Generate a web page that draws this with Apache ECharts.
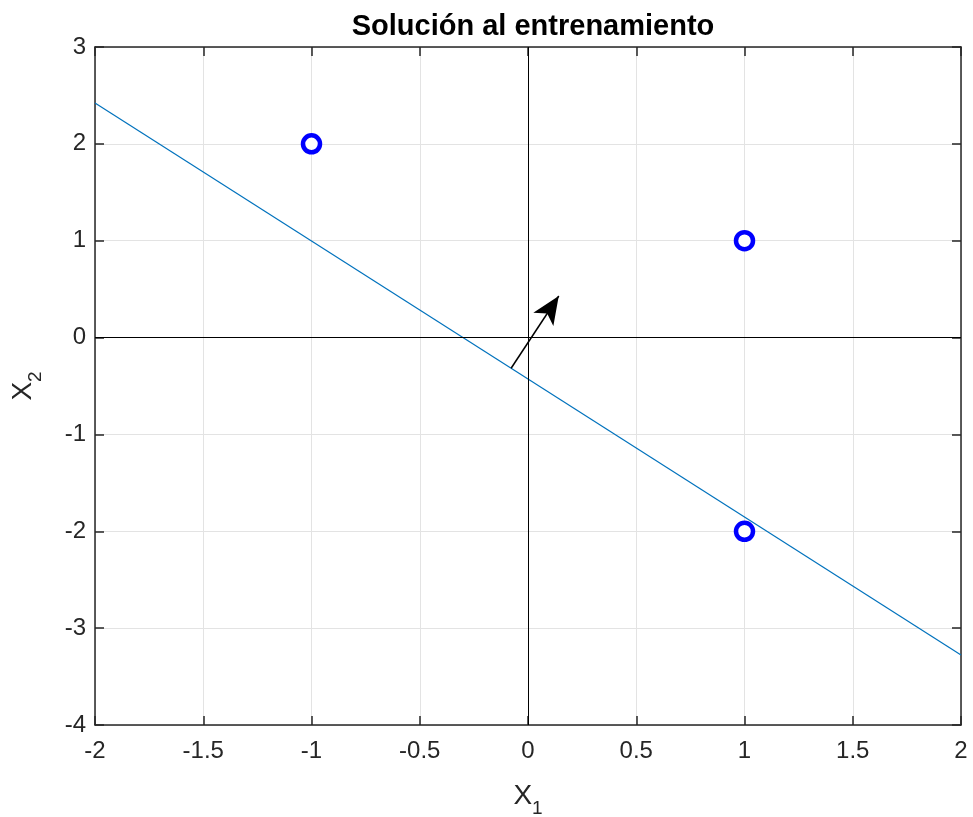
<!DOCTYPE html>
<html>
<head>
<meta charset="utf-8">
<script src="https://cdn.jsdelivr.net/npm/echarts@6/dist/echarts.min.js"></script>
<style>
  html, body { margin: 0; padding: 0; background: #fff; }
  #chart { width: 973px; height: 817px; }
</style>
</head>
<body>
<div id="chart"></div>
<script>
// training points
const pointsX = [-1, 1, 1]
const pointsY = [2, 1, -2]
// decision boundary endpoints
const boundaryX = [-2, 2]
const boundaryY = [2.422, -3.277]
// weight vector arrow (start -> tip)
const arrowStart = [-0.078, -0.317]
const arrowEnd = [0.142, 0.429]

const axisColor = '#262626'
const font = 'Liberation Sans, Arial, sans-serif'

const chart = echarts.init(document.getElementById('chart'))

const baseAxis = {
  type: 'value',
  axisLine: { show: true, onZero: false, lineStyle: { color: axisColor, width: 1.5 } },
  axisTick: { show: true, inside: true, length: 9, lineStyle: { color: axisColor, width: 1.5 } },
  axisLabel: { color: axisColor, fontSize: 24, fontFamily: font },
  splitLine: { show: true, lineStyle: { color: '#e3e3e3', width: 1 } },
}

const subName = {
  rich: {
    x: { fontSize: 28, fontFamily: font, color: axisColor },
    s: { fontSize: 19, fontFamily: font, color: axisColor, padding: [24, 0, 0, 0] },
  },
}

const option = {
  animation: false,
  backgroundColor: '#fff',
  title: {
    text: 'Solución al entrenamiento',
    left: 528,
    textAlign: 'center',
    top: 7,
    textStyle: { fontFamily: font, fontWeight: 'bold', fontSize: 29, color: '#000' },
  },
  grid: { left: 95, right: 12, top: 47, bottom: 92, outerBoundsMode: 'none', containLabel: false },
  xAxis: [
    {
      ...baseAxis,
      min: -2, max: 2, interval: 0.5,
      axisLabel: { ...baseAxis.axisLabel, margin: 14 },
      name: '{x|X}{s|1}',
      nameLocation: 'middle',
      nameGap: 50,
      nameTextStyle: subName,
    },
    {
      ...baseAxis, position: 'top', min: -2, max: 2, interval: 0.5,
      axisLabel: { show: false }, splitLine: { show: false },
    },
  ],
  yAxis: [
    {
      ...baseAxis,
      min: -4, max: 3, interval: 1,
      axisLabel: { ...baseAxis.axisLabel, margin: 9 },
      name: '{x|X}{s|2}',
      nameLocation: 'middle',
      nameGap: 50,
      nameRotate: 90,
      nameTextStyle: subName,
    },
    {
      ...baseAxis, position: 'right', min: -4, max: 3, interval: 1,
      axisLabel: { show: false }, splitLine: { show: false },
    },
  ],
  series: [
    {
      // coordinate axes through the origin
      type: 'line',
      silent: true,
      symbol: 'none',
      data: [],
      markLine: {
        silent: true,
        symbol: 'none',
        label: { show: false },
        lineStyle: { color: '#000', width: 1, type: 'solid' },
        data: [
          [{ coord: [0, -4] }, { coord: [0, 3] }],
          [{ coord: [-2, 0] }, { coord: [2, 0] }],
        ],
      },
    },
    {
      type: 'line',
      symbol: 'none',
      lineStyle: { color: '#0072BD', width: 1.2 },
      data: boundaryX.map((x, i) => [x, boundaryY[i]]),
      z: 3,
    },
    {
      type: 'line',
      symbol: 'none',
      data: [],
      markLine: {
        silent: true,
        symbol: ['none', 'arrow'],
        symbolSize: [18, 28],
        label: { show: false },
        lineStyle: { color: '#000', width: 1.5, type: 'solid' },
        data: [[{ coord: arrowStart }, { coord: arrowEnd }]],
      },
      z: 4,
    },
    {
      type: 'scatter',
      symbol: 'circle',
      symbolSize: 17,
      itemStyle: { color: '#fff', borderColor: '#0000ff', borderWidth: 4.5, opacity: 1 },
      data: pointsX.map((x, i) => [x, pointsY[i]]),
      z: 5,
    },
  ],
}

chart.setOption(option)
</script>
</body>
</html>
